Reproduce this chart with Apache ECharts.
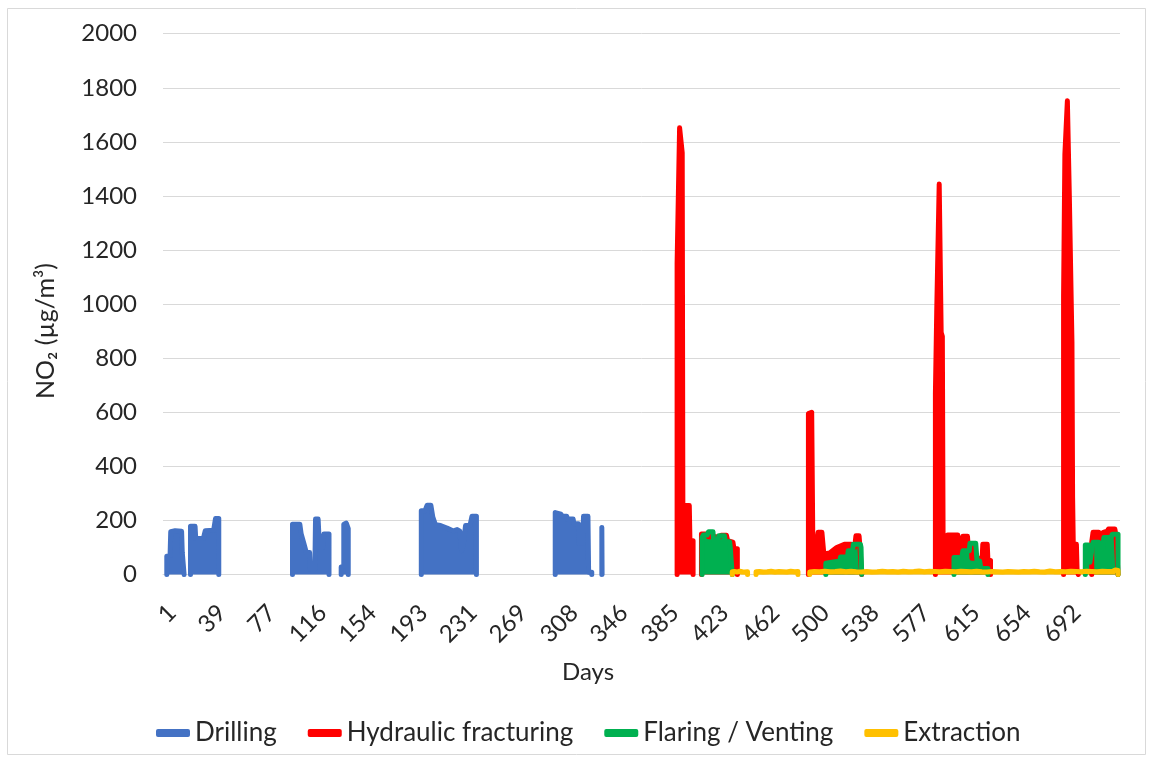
<!DOCTYPE html>
<html>
<head>
<meta charset="utf-8">
<script src="https://cdn.jsdelivr.net/npm/echarts@6/dist/echarts.min.js"></script>
<style>
  html, body { margin: 0; padding: 0; background: #fff; }
  #chart { width: 1153px; height: 758px; }
</style>
</head>
<body>
<div id="chart"></div>
<script>
// Day labels shown along the horizontal axis (731 days in total)
const dayTicks = [1, 39, 77, 116, 154, 193, 231, 269, 308, 346, 385, 423, 462, 500, 538, 577, 615, 654, 692];

// [day, NO2 µg/m³]; a '-' value breaks the trace between active periods
const drilling = [
  [3.4, 0], [3.4, 68], [5.9, 70], [6.4, 158], [9.8, 162], [14.7, 160], [15.2, 82], [16.6, 80], [16.6, 0], [17.6, '-'],
  [21.5, 0], [21.5, 178], [25.0, 178], [25.5, 133], [31.3, 133], [32.8, 162], [39.2, 164], [40.6, 207], [43.1, 207], [43.1, 0], [44.1, '-'],
  [99.4, 0], [99.4, 186], [105.0, 186], [106.0, 151], [107.5, 151], [108.0, 117], [109.5, 117], [110.0, 81], [112.5, 81], [113.0, 20], [116.5, 20],
  [117.0, 205], [119.0, 205], [120.0, 100], [122.4, 100], [123.4, 150], [127.3, 150], [127.3, 0], [128.3, '-'],
  [136.6, 0], [136.6, 28], [138.6, 30], [138.6, 186], [140.5, 190], [142.0, 170], [142.0, 0], [143.0, '-'],
  [197.8, 0], [197.8, 236], [200.7, 236], [202.2, 256], [205.1, 256], [206.6, 212], [208.6, 184], [212.5, 181], [217.4, 172], [222.3, 161],
  [225.2, 166], [227.2, 160], [228.6, 88], [230.1, 120], [231.6, 181], [235.0, 181], [236.5, 215], [239.9, 215], [239.9, 0], [240.9, '-'],
  [300.1, 0], [300.1, 229], [304.5, 223], [305.5, 215], [308.9, 215], [309.4, 205], [313.8, 205], [314.3, 188], [317.8, 188],
  [318.2, 116], [321.2, 116], [321.7, 215], [325.1, 215], [325.6, 8], [328.0, 8], [328.0, 0], [329.0, '-'],
  [335.7, 0], [335.7, 174], [335.9, 170], [335.9, 0]
];

const fracturing = [
  [393.2, 0], [393.2, 1150], [395.1, 1652], [397.1, 1560], [397.6, 255], [402.5, 255], [403.0, 125], [405.4, 125], [405.4, 0], [406.4, '-'],
  [411.8, 0], [411.8, 150], [417.2, 150], [417.2, 140], [423.0, 140], [424.0, 130], [426.9, 145], [430.9, 145], [431.8, 125], [435.8, 120],
  [436.7, 95], [439.2, 95], [439.2, 0], [439.7, '-'],
  [493.5, 0], [493.5, 595], [496.0, 600], [496.9, 100], [498.9, 90], [500.9, 156], [503.8, 156], [505.3, 75], [509.7, 80],
  [510.2, 82], [515.1, 100], [521.0, 112], [526.3, 112], [526.8, 100], [528.8, 100], [529.8, 143], [532.2, 143], [532.7, 112],
  [534.2, 112], [534.2, 0], [534.7, '-'],
  [590.5, 0], [590.5, 670], [591.5, 970], [593.4, 1444], [594.9, 895], [595.8, 880], [596.4, 85], [598.8, 85], [599.8, 146],
  [607.6, 146], [608.1, 123], [611.0, 123], [611.5, 141], [615.0, 141], [615.4, 112], [617.9, 112], [618.4, 60], [626.2, 60],
  [626.7, 112], [630.1, 112], [630.6, 52], [632.6, 52], [632.6, 0], [633.6, '-'],
  [688.4, 0], [688.4, 1030], [689.4, 1555], [691.3, 1752], [692.8, 1400], [694.3, 1400], [694.8, 860], [695.3, 285], [695.8, 112],
  [698.2, 112], [698.7, 20], [699.6, 20], [699.6, 0], [700.1, '-'],
  [709.9, 0], [709.9, 120], [710.9, 156], [715.3, 156], [716.3, 119], [717.8, 119], [718.7, 156], [721.7, 160], [722.7, 168],
  [727.6, 168], [728.5, 143], [730.0, 143], [730.0, 0]
];

const flaring = [
  [412.3, 0], [412.3, 137], [413.2, 146], [416.2, 146], [417.2, 158], [420.6, 158], [421.1, 125], [424.5, 125], [425.0, 143],
  [429.4, 143], [429.9, 121], [433.3, 121], [433.8, 100], [435.3, 100], [435.3, 0], [435.8, '-'],
  [506.8, 0], [506.8, 42], [508.2, 48], [517.5, 50], [518.0, 65], [523.4, 66], [523.9, 88], [527.3, 88], [527.8, 112],
  [533.2, 112], [533.7, 100], [534.2, 100], [534.2, 0], [534.7, '-'],
  [604.7, 0], [604.7, 63], [608.1, 63], [609.1, 18], [610.6, 18], [611.5, 88], [616.4, 88], [616.9, 116], [621.3, 116],
  [622.3, 50], [624.3, 50], [625.2, 22], [630.6, 22], [630.6, 0], [631.6, '-'],
  [705.0, 0], [705.0, 109], [707.5, 109], [708.5, 45], [709.9, 45], [710.9, 119], [715.3, 119], [716.3, 95], [718.3, 95],
  [719.2, 137], [724.6, 137], [725.6, 149], [730.0, 149], [730.0, 0]
];

const extraction = [
  [435.3, 0], [435.3, 10], [437, 11], [439, 9], [441, 12], [443, 10], [445, 9], [447, 10], [447, 0], [448, '-'],
  [453.5, 0], [453.5, 10], [456, 11], [459, 9], [462, 10], [465, 12], [468, 9], [471, 11], [474, 10], [477, 9],
  [480, 12], [483, 10], [485.5, 11], [485.5, 0], [486.5, '-'],
  [494.5, 0], [494.5, 9], [498, 11], [502, 10], [506, 12], [510, 10], [514, 11], [518, 13], [522, 10], [526, 12],
  [530, 10], [534, 9], [538, 11], [542, 9], [546, 10], [550, 12], [554, 10], [558, 11], [562, 9], [566, 12],
  [570, 10], [574, 11], [578, 13], [582, 10], [586, 12], [590, 11], [594, 10], [598, 12], [602, 11], [606, 10],
  [610, 12], [614, 11], [618, 10], [622, 12], [626, 10], [630, 9], [634, 11], [638, 10], [642, 9], [646, 11],
  [650, 10], [654, 9], [658, 11], [662, 10], [666, 12], [670, 10], [674, 9], [678, 13], [682, 10], [686, 11],
  [690, 10], [694, 12], [698, 11], [702, 10], [706, 12], [710, 11], [714, 10], [718, 12], [722, 11], [726, 12],
  [728, 17], [730, 15], [730, 0]
];

const FONT = 'Lato, "Open Sans", sans-serif';
const TEXT = '#262626';
const GRID = '#d9d9d9';

const chart = echarts.init(document.getElementById('chart'), null, { renderer: 'canvas' });

function phase(name, color, data) {
  return {
    name: name,
    type: 'line',
    data: data,
    symbol: 'none',
    showSymbol: false,
    connectNulls: false,
    lineStyle: { color: color, width: 5, cap: 'round', join: 'round' },
    itemStyle: { color: color },
    areaStyle: { color: color, opacity: 1, origin: 'start' }
  };
}

chart.setOption({
  animation: false,
  backgroundColor: '#fff',
  textStyle: { fontFamily: FONT, color: TEXT },
  grid: { left: 163, right: 33, top: 33.7, bottom: 183.5, containLabel: false },
  legend: {
    top: 715,
    left: 151,
    icon: 'roundRect',
    itemWidth: 34,
    itemHeight: 8,
    itemGap: 31,
    textStyle: { fontFamily: FONT, fontSize: 26, color: TEXT },
    data: ['Drilling', 'Hydraulic fracturing', 'Flaring / Venting', 'Extraction']
  },
  xAxis: {
    type: 'value',
    min: 0.5,
    max: 731.5,
    axisLine: { show: true, lineStyle: { color: GRID, width: 1 } },
    axisTick: { show: false },
    splitLine: { show: false },
    axisLabel: {
      customValues: dayTicks,
      rotate: 45,
      align: 'right',
      verticalAlign: 'top',
      margin: 26,
      fontFamily: FONT,
      fontSize: 24,
      color: TEXT
    }
  },
  yAxis: {
    type: 'value',
    min: 0,
    max: 2000,
    interval: 200,
    axisLine: { show: false },
    axisTick: { show: false },
    splitLine: { show: true, lineStyle: { color: GRID, width: 1 } },
    axisLabel: {
      margin: 26,
      fontFamily: FONT,
      fontSize: 24,
      color: TEXT,
      formatter: function (v) { return String(v); }
    }
  },
  graphic: [
    {
      type: 'rect',
      silent: true,
      shape: { x: 7.5, y: 8.5, width: 1138, height: 746 },
      style: { fill: 'none', stroke: GRID, lineWidth: 1 }
    },
    {
      type: 'text',
      x: 588, y: 672,
      style: { text: 'Days', fontFamily: FONT, fontSize: 24, fill: TEXT, align: 'center', verticalAlign: 'middle' }
    },
    {
      type: 'text',
      x: 46, y: 331,
      rotation: Math.PI / 2,
      style: { text: 'NO₂ (µg/m³)', fontFamily: FONT, fontSize: 25, fill: TEXT, align: 'center', verticalAlign: 'middle' }
    }
  ],
  series: [
    phase('Drilling', '#4472C4', drilling),
    phase('Hydraulic fracturing', '#FF0000', fracturing),
    phase('Flaring / Venting', '#00B050', flaring),
    phase('Extraction', '#FFC000', extraction)
  ]
});
</script>
</body>
</html>
